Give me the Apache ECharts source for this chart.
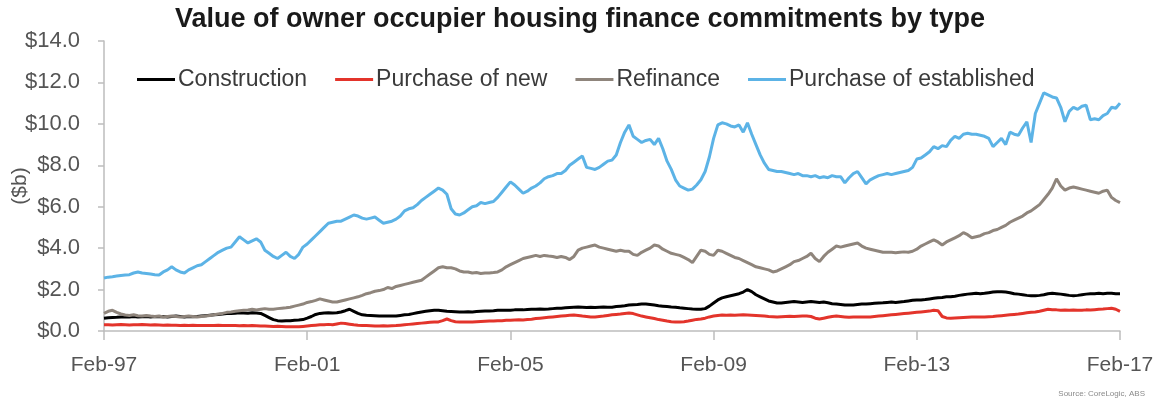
<!DOCTYPE html>
<html><head><meta charset="utf-8">
<script src="https://cdn.jsdelivr.net/npm/echarts@6/dist/echarts.min.js"></script>
<style>html,body{margin:0;padding:0;background:#fff}#c{width:1160px;height:404px}</style>
</head><body><div id="c"></div>
<script>
// Monthly series, Feb-97 .. Feb-17 ($b)
const startYear = 1997;
const monthNames = ['Feb','Mar','Apr','May','Jun','Jul','Aug','Sep','Oct','Nov','Dec','Jan'];
const seriesNames = ['Construction','Purchase of new','Refinance','Purchase of established'];
const yTicks = [0,2,4,6,8,10,12,14];

const construction = [
0.62,0.64,0.65,0.66,0.68,0.67,0.68,0.7,0.68,0.69,0.7,0.68,
0.7,0.69,0.7,0.68,0.7,0.72,0.7,0.68,0.7,0.69,0.7,0.72,
0.74,0.76,0.78,0.8,0.82,0.84,0.85,0.86,0.88,0.87,0.86,0.88,
0.87,0.85,0.75,0.65,0.55,0.5,0.48,0.5,0.5,0.52,0.53,0.55,
0.62,0.7,0.8,0.85,0.87,0.88,0.87,0.88,0.92,0.98,1.05,0.95,
0.85,0.78,0.76,0.75,0.74,0.73,0.72,0.72,0.73,0.72,0.75,0.78,
0.8,0.84,0.88,0.92,0.95,0.98,1.0,1.0,0.98,0.95,0.94,0.93,
0.92,0.92,0.93,0.92,0.94,0.95,0.96,0.97,0.98,1.0,1.0,1.0,
1.0,1.02,1.03,1.02,1.04,1.05,1.05,1.06,1.05,1.06,1.08,1.1,
1.1,1.12,1.14,1.15,1.16,1.15,1.14,1.15,1.14,1.15,1.16,1.15,
1.15,1.18,1.2,1.22,1.25,1.27,1.28,1.3,1.3,1.28,1.25,1.22,
1.2,1.18,1.16,1.15,1.12,1.1,1.08,1.06,1.05,1.05,1.08,1.2,
1.35,1.5,1.6,1.65,1.7,1.75,1.8,1.88,2.0,1.9,1.75,1.65,
1.55,1.45,1.4,1.35,1.35,1.38,1.4,1.42,1.4,1.38,1.4,1.42,
1.4,1.38,1.4,1.36,1.32,1.3,1.28,1.25,1.25,1.26,1.28,1.3,
1.3,1.32,1.34,1.35,1.36,1.38,1.4,1.38,1.4,1.42,1.45,1.48,
1.5,1.5,1.52,1.55,1.58,1.6,1.62,1.65,1.65,1.68,1.72,1.75,
1.78,1.8,1.82,1.8,1.82,1.85,1.88,1.9,1.9,1.88,1.85,1.8,
1.78,1.75,1.72,1.7,1.7,1.72,1.75,1.8,1.82,1.8,1.78,1.75,
1.72,1.7,1.72,1.75,1.78,1.8,1.8,1.82,1.8,1.82,1.82,1.8,
1.8];

const purchaseNew = [
0.3,0.3,0.29,0.3,0.31,0.3,0.29,0.3,0.3,0.31,0.3,0.29,
0.3,0.29,0.28,0.29,0.28,0.28,0.27,0.28,0.27,0.28,0.27,0.26,
0.27,0.26,0.27,0.28,0.27,0.26,0.27,0.26,0.25,0.26,0.25,0.26,
0.25,0.24,0.24,0.23,0.22,0.23,0.22,0.21,0.21,0.2,0.2,0.22,
0.24,0.26,0.28,0.3,0.3,0.32,0.3,0.34,0.38,0.36,0.33,0.3,
0.28,0.27,0.26,0.25,0.24,0.24,0.25,0.24,0.25,0.26,0.28,0.3,
0.32,0.34,0.36,0.38,0.4,0.42,0.43,0.44,0.5,0.58,0.5,0.45,
0.44,0.43,0.43,0.44,0.45,0.46,0.47,0.48,0.48,0.5,0.5,0.52,
0.52,0.53,0.54,0.53,0.55,0.57,0.6,0.62,0.64,0.66,0.68,0.7,
0.72,0.74,0.76,0.77,0.75,0.72,0.7,0.68,0.68,0.7,0.72,0.75,
0.78,0.8,0.82,0.85,0.87,0.84,0.78,0.72,0.68,0.64,0.6,0.55,
0.52,0.48,0.45,0.43,0.43,0.45,0.48,0.52,0.56,0.58,0.62,0.68,
0.72,0.75,0.77,0.76,0.77,0.76,0.77,0.78,0.77,0.76,0.75,0.74,
0.72,0.7,0.69,0.68,0.69,0.7,0.71,0.7,0.71,0.72,0.72,0.7,
0.62,0.58,0.62,0.66,0.7,0.72,0.7,0.68,0.66,0.67,0.68,0.68,
0.67,0.68,0.7,0.72,0.74,0.76,0.78,0.8,0.82,0.84,0.86,0.88,
0.9,0.92,0.94,0.96,1.0,0.98,0.7,0.63,0.62,0.63,0.64,0.65,
0.66,0.67,0.68,0.68,0.68,0.69,0.7,0.72,0.74,0.76,0.78,0.8,
0.82,0.85,0.88,0.9,0.92,0.95,1.0,1.05,1.03,1.02,1.0,1.01,
1.0,1.01,1.0,1.0,1.02,1.01,1.03,1.05,1.06,1.08,1.1,1.05,
0.95];

const refinance = [
0.85,0.95,1.0,0.9,0.82,0.77,0.75,0.78,0.74,0.72,0.75,0.72,
0.7,0.72,0.68,0.7,0.72,0.7,0.68,0.7,0.72,0.7,0.68,0.7,
0.72,0.75,0.78,0.82,0.85,0.9,0.92,0.95,0.98,1.0,1.02,1.05,
1.02,1.05,1.08,1.05,1.05,1.08,1.1,1.12,1.15,1.2,1.25,1.3,
1.38,1.42,1.48,1.55,1.5,1.45,1.4,1.4,1.45,1.5,1.55,1.6,
1.65,1.72,1.8,1.85,1.92,1.95,2.0,2.1,2.05,2.15,2.2,2.25,
2.3,2.35,2.4,2.45,2.6,2.75,2.9,3.05,3.1,3.05,3.05,3.0,
2.9,2.85,2.85,2.8,2.82,2.78,2.8,2.8,2.82,2.85,2.95,3.1,
3.2,3.3,3.4,3.5,3.55,3.6,3.65,3.6,3.65,3.62,3.6,3.55,
3.6,3.55,3.45,3.6,3.9,4.0,4.05,4.1,4.15,4.05,4.0,3.95,
3.9,3.85,3.9,3.85,3.85,3.7,3.65,3.8,3.9,4.0,4.15,4.1,
3.95,3.85,3.75,3.7,3.65,3.55,3.45,3.3,3.6,3.9,3.85,3.7,
3.65,3.9,3.85,3.75,3.65,3.55,3.5,3.4,3.3,3.2,3.1,3.05,
3.0,2.95,2.85,2.9,3.0,3.1,3.2,3.35,3.4,3.5,3.6,3.75,
3.5,3.35,3.6,3.8,3.95,4.1,4.05,4.1,4.15,4.2,4.25,4.1,
4.0,3.95,3.9,3.85,3.8,3.8,3.8,3.78,3.8,3.82,3.8,3.85,
3.95,4.1,4.2,4.3,4.4,4.3,4.15,4.3,4.4,4.5,4.6,4.75,
4.65,4.5,4.55,4.6,4.7,4.75,4.85,4.9,5.0,5.1,5.25,5.35,
5.45,5.55,5.7,5.8,5.95,6.1,6.35,6.6,6.9,7.35,7.0,6.8,
6.9,6.95,6.9,6.85,6.8,6.75,6.7,6.65,6.75,6.8,6.45,6.3,
6.2];

const purchaseEstablished = [
2.56,2.6,2.62,2.65,2.68,2.7,2.72,2.8,2.85,2.8,2.78,2.75,
2.72,2.7,2.85,2.95,3.1,2.95,2.85,2.8,2.95,3.05,3.15,3.2,
3.35,3.5,3.65,3.8,3.9,4.0,4.05,4.3,4.55,4.4,4.25,4.35,
4.45,4.3,3.9,3.75,3.6,3.5,3.65,3.8,3.6,3.5,3.7,4.05,
4.2,4.4,4.6,4.8,5.0,5.2,5.25,5.3,5.3,5.4,5.5,5.6,
5.55,5.45,5.4,5.45,5.5,5.35,5.2,5.25,5.3,5.4,5.55,5.8,
5.9,5.95,6.1,6.3,6.45,6.6,6.75,6.9,6.8,6.6,5.9,5.65,
5.6,5.7,5.85,6.0,6.05,6.2,6.15,6.2,6.25,6.45,6.7,6.95,
7.2,7.05,6.85,6.65,6.75,6.9,7.0,7.15,7.35,7.45,7.5,7.6,
7.6,7.75,8.0,8.15,8.3,8.45,7.9,7.85,7.8,7.9,8.05,8.2,
8.25,8.5,9.1,9.6,9.95,9.4,9.25,9.1,9.2,9.25,9.0,9.3,
8.8,8.2,7.8,7.3,7.0,6.9,6.8,6.85,7.05,7.3,7.7,8.4,
9.3,9.95,10.05,10.0,9.9,9.85,9.95,9.6,10.05,9.5,9.0,8.5,
8.1,7.8,7.75,7.7,7.7,7.65,7.6,7.55,7.6,7.5,7.5,7.45,
7.5,7.4,7.45,7.4,7.5,7.45,7.45,7.15,7.4,7.6,7.7,7.4,
7.1,7.3,7.4,7.5,7.55,7.6,7.55,7.6,7.65,7.7,7.75,7.9,
8.3,8.35,8.5,8.65,8.9,8.8,8.95,8.9,9.2,9.4,9.3,9.5,
9.55,9.5,9.5,9.45,9.4,9.3,8.9,9.1,9.3,9.0,9.6,9.5,
9.45,9.8,10.1,9.1,10.5,11.0,11.5,11.4,11.3,11.25,10.8,10.1,
10.6,10.8,10.7,10.85,10.9,10.2,10.25,10.2,10.4,10.5,10.8,10.75,
11.0];

// category labels Feb-97 ... Feb-17
const categories = [];
for (let i = 0; i < purchaseEstablished.length; i++) {
  const m = i % 12;
  const yr = startYear + Math.floor(i / 12) + (m === 11 ? 1 : 0);
  categories.push(monthNames[m] + '-' + String(yr % 100).padStart(2, '0'));
}

const colors = ['#000000', '#e3342b', '#8f857c', '#5cb3e6'];
const FONT = 'Liberation Sans, Arial, sans-serif';
const chart = echarts.init(document.getElementById('c'));
chart.setOption({
  animation: false,
  textStyle: { fontFamily: FONT },
  title: [{
    text: 'Value of owner occupier housing finance commitments by type',
    left: 'center', top: 1,
    textStyle: { fontSize: 27, fontWeight: 'bold', color: '#1a1a1a', fontFamily: FONT }
  }, {
    text: 'Source: CoreLogic, ABS', right: 10, bottom: 1,
    textStyle: { fontSize: 8, fontWeight: 'normal', color: '#8a8a8a', fontFamily: FONT }
  }],
  legend: {
    data: seriesNames, left: 132, top: 63,
    icon: 'rect', itemWidth: 38, itemHeight: 3, itemGap: 28,
    textStyle: { fontSize: 23, color: '#3a3a3a', fontFamily: FONT, padding: [0, 0, 0, -2] }
  },
  grid: { left: 104, right: 40, top: 41, bottom: 73, containLabel: false, outerBoundsMode: 'none' },
  xAxis: {
    type: 'category', data: categories, boundaryGap: false,
    axisLine: { lineStyle: { color: '#bdbdbd', width: 1.5 } },
    axisTick: { show: true, interval: 47, length: 9, lineStyle: { color: '#bdbdbd', width: 1.5 } },
    axisLabel: { interval: 47, color: '#555555', fontSize: 21, margin: 24, fontFamily: FONT },
    splitLine: { show: false }
  },
  yAxis: {
    type: 'value', min: 0, max: 14, interval: 2,
    name: '($b)', nameLocation: 'middle', nameGap: 73, nameRotate: 90, nameMoveOverlap: false,
    nameTextStyle: { fontSize: 21, color: '#555555', fontFamily: FONT },
    axisLine: { show: true, lineStyle: { color: '#bdbdbd', width: 1.5 } },
    axisTick: { show: true, length: 6, lineStyle: { color: '#bdbdbd', width: 1.5 } },
    axisLabel: { color: '#555555', fontSize: 22, margin: 24, fontFamily: FONT,
      formatter: v => '$' + v.toFixed(1) },
    splitLine: { show: false }
  },
  series: [
    { name: seriesNames[0], type: 'line', data: construction },
    { name: seriesNames[1], type: 'line', data: purchaseNew },
    { name: seriesNames[2], type: 'line', data: refinance },
    { name: seriesNames[3], type: 'line', data: purchaseEstablished }
  ].map((s, k) => Object.assign(s, {
    showSymbol: false, symbol: 'none', color: colors[k],
    lineStyle: { width: 3, color: colors[k] }, z: 2 + k
  }))
});
</script></body></html>
